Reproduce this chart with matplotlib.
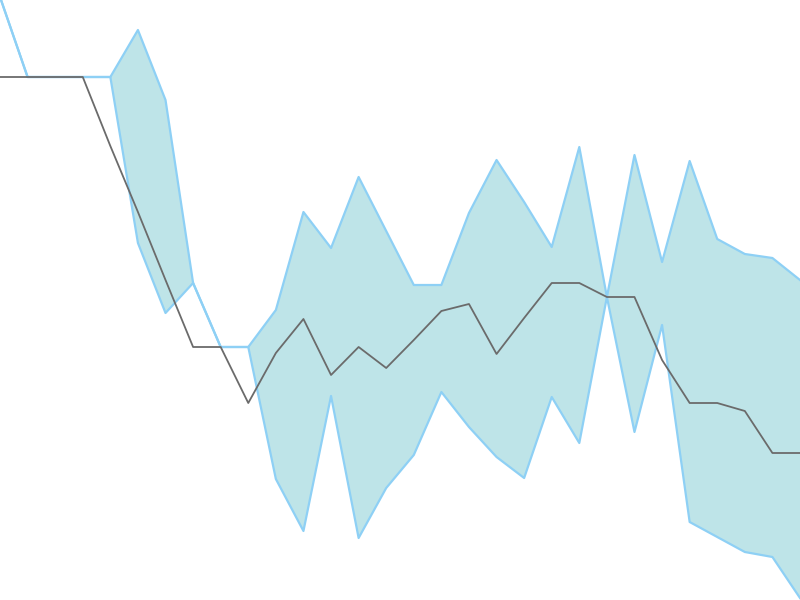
import matplotlib
matplotlib.use("Agg")
import matplotlib.pyplot as plt

steps = list(range(30))
median = [523, 523, 523, 523, 454, 388, 320, 253, 253, 197, 247, 281, 225, 253, 232,
          260, 289, 296, 246, 282, 317, 317, 303, 303, 240, 197, 197, 189, 147, 147]
upper = [603, 523, 523, 523, 523, 570, 500, 317, 253, 253, 290, 388, 352, 423, 369,
         315, 315, 387, 440, 398, 353, 453, 303, 445, 338, 439, 361, 346, 342, 320]
lower = [603, 523, 523, 523, 523, 357, 287, 317, 253, 253, 121, 69, 204, 62, 112,
         145, 208, 173, 143, 122, 203, 157, 303, 168, 275, 78, 63, 48, 43, 2]

fig = plt.figure(figsize=(8, 6), dpi=100)
ax = fig.add_axes([0, 0, 1, 1])
ax.fill_between(steps, lower, upper, color="#BEE4E8", linewidth=0, zorder=1)
ax.plot(steps, upper, color="#8ED0F5", linewidth=1.6, zorder=2)
ax.plot(steps, lower, color="#8ED0F5", linewidth=1.6, zorder=2)
ax.plot(steps, median, color="#6B6B6B", linewidth=1.3, zorder=3)
ax.set_xlim(0, 29)
ax.set_ylim(0, 600)
ax.axis("off")
fig.savefig("out.png", dpi=100)
